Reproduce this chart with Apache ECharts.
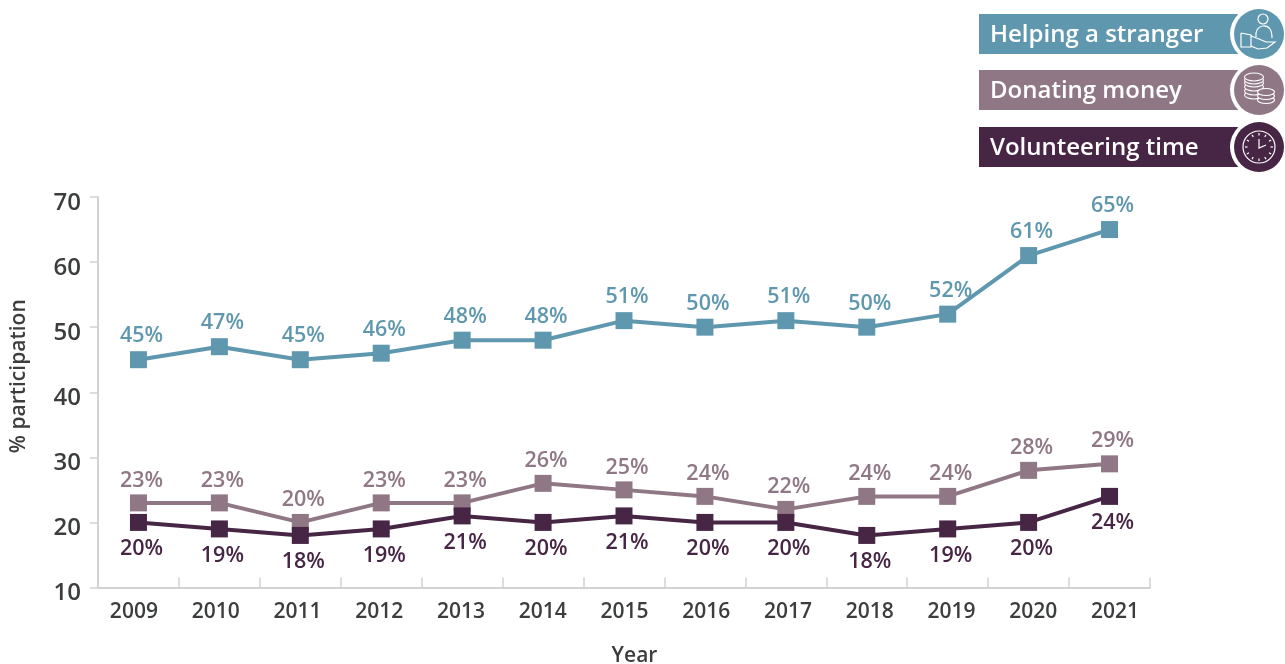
<!DOCTYPE html>
<html style="height: 100%">
<head>
  <meta charset="utf-8">
  <script src="https://cdn.jsdelivr.net/npm/echarts@6/dist/echarts.min.js"></script>
  <style>
    body { margin: 0; background: #fff; }
    #container { width: 1285px; height: 664px; }
  </style>
</head>
<body>
<div id="container"></div>
<script type="text/javascript">
var years = ['2009','2010','2011','2012','2013','2014','2015','2016','2017','2018','2019','2020','2021'];
var helping = [45,47,45,46,48,48,51,50,51,50,52,61,65];
var donating = [23,23,20,23,23,26,25,24,22,24,24,28,29];
var volunteering = [20,19,18,19,21,20,21,20,20,18,19,20,24];

var FONT = '"Open Sans", sans-serif';
var TEAL = '#5f98ae';
var MAUVE = '#8f7785';
var PLUM = '#472545';
var INK = '#3b3d3f';
var AXIS = '#d2d2d2';

function makeSeries(name, values, color, pos, dist) {
    return {
        name: name,
        type: 'line',
        data: values,
        symbol: 'rect',
        symbolSize: 17,
        itemStyle: { color: color },
        lineStyle: { color: color, width: 4 },
        label: {
            show: true,
            position: pos,
            distance: dist,
            offset: [3, 0],
            formatter: '{c}%',
            color: color,
            fontFamily: FONT,
            fontWeight: 600,
            fontSize: 21.5
        },
        z: 3
    };
}

// legend chips are drawn by hand, the original has a bar + round icon
function chip(y, text, color, icon) {
    var cy = y + 21;
    var kids = [
        { type: 'rect', shape: { x: 979, y: y, width: 262, height: 40 }, style: { fill: color } },
        { type: 'text', style: { x: 990, y: y + 21, text: text, fill: '#fff', font: '600 24px "Open Sans", sans-serif', verticalAlign: 'middle' } },
        { type: 'circle', shape: { cx: 1258, cy: cy - 1, r: 28 }, style: { fill: '#fff' } },
        { type: 'circle', shape: { cx: 1259, cy: cy - 1, r: 25 }, style: { fill: color } }
    ];
    return { type: 'group', children: kids.concat(icon(1259, cy - 1)) };
}

var thin = { stroke: '#fff', fill: 'none', lineWidth: 1.2 };

function handIcon(cx, cy) {
    return [
        { type: 'circle', shape: { cx: cx + 4, cy: cy - 15, r: 5 }, style: thin },
        { type: 'polyline', shape: { smooth: 0.4, points: [[cx - 3, cy + 3], [cx - 2, cy - 4], [cx + 4, cy - 8], [cx + 11, cy - 5], [cx + 13, cy + 4]] }, style: thin },
        { type: 'polyline', shape: { points: [[cx - 18, cy - 1], [cx - 8, cy + 1], [cx - 8, cy + 13], [cx - 18, cy + 13], [cx - 18, cy - 1]] }, style: thin },
        { type: 'polyline', shape: { points: [[cx - 8, cy + 2], [cx, cy + 5], [cx + 7, cy + 8], [cx + 16, cy + 8], [cx + 8, cy + 14], [cx - 1, cy + 15], [cx - 8, cy + 12]] }, style: thin }
    ];
}

function coinIcon(cx, cy) {
    var out = [];
    [5, 1, -3, -7, -10, -13].forEach(function (d) {
        out.push({ type: 'ellipse', shape: { cx: cx - 5, cy: cy + d, rx: 9.5, ry: 4 }, style: { stroke: '#fff', fill: MAUVE, lineWidth: 1.1 } });
    });
    [10, 6, 2].forEach(function (d) {
        out.push({ type: 'ellipse', shape: { cx: cx + 7, cy: cy + d, rx: 8.5, ry: 3.5 }, style: { stroke: '#fff', fill: MAUVE, lineWidth: 1.1 } });
    });
    return out;
}

function clockIcon(cx, cy) {
    var out = [
        { type: 'circle', shape: { cx: cx, cy: cy, r: 16 }, style: thin },
        { type: 'polyline', shape: { points: [[cx, cy - 8], [cx, cy + 1], [cx + 7, cy - 2]] }, style: thin }
    ];
    for (var i = 0; i < 12; i++) {
        var a = i * Math.PI / 6;
        out.push({ type: 'line', shape: { x1: cx + 14 * Math.sin(a), y1: cy - 14 * Math.cos(a), x2: cx + 11.5 * Math.sin(a), y2: cy - 11.5 * Math.cos(a) }, style: thin });
    }
    return out;
}

var myChart = echarts.init(document.getElementById('container'));
myChart.setOption({
    animation: false,
    textStyle: { fontFamily: FONT },
    grid: [
        { left: 98, right: 135, top: 197, bottom: 76.5, outerBoundsMode: 'none' },
        // second grid only carries the tick labels: in the original they sit lower
        // than the ticks and the years are spaced a bit wider than the points
        { left: 93, right: 129, top: 203, bottom: 70.5, outerBoundsMode: 'none' }
    ],
    xAxis: [
        {
            type: 'category',
            data: years,
            axisLine: { lineStyle: { color: AXIS, width: 2 } },
            axisTick: { show: true, interval: 0, inside: true, length: 10, lineStyle: { color: AXIS, width: 1.5 } },
            axisLabel: { show: false }
        },
        {
            type: 'category',
            gridIndex: 1,
            data: years,
            name: 'Year',
            nameLocation: 'middle',
            nameGap: 52,
            nameTextStyle: { color: INK, fontSize: 21, fontWeight: 600, fontFamily: FONT, padding: [0, 0, 0, 20] },
            axisLine: { show: false },
            axisTick: { show: false },
            axisLabel: { color: INK, fontSize: 21, fontWeight: 600, fontFamily: FONT, margin: 8, interval: 0 }
        }
    ],
    yAxis: [
        {
            type: 'value',
            min: 10,
            max: 70,
            interval: 10,
            name: '% participation',
            nameLocation: 'middle',
            nameGap: 68,
            nameTextStyle: { color: INK, fontSize: 21, fontWeight: 600, fontFamily: FONT, padding: [0, 0, 0, 32] },
            axisLine: { show: true, lineStyle: { color: AXIS, width: 2 } },
            axisTick: { show: true, length: 8, lineStyle: { color: AXIS, width: 1.5 } },
            splitLine: { show: false },
            axisLabel: { show: false }
        },
        {
            type: 'value',
            gridIndex: 1,
            min: 10,
            max: 70,
            interval: 10,
            axisLine: { show: false },
            axisTick: { show: false },
            splitLine: { show: false },
            axisLabel: { color: INK, fontSize: 24, fontWeight: 600, fontFamily: FONT, margin: 12 }
        }
    ],
    series: [
        makeSeries('Helping a stranger', helping, TEAL, 'top', 4),
        makeSeries('Donating money', donating, MAUVE, 'top', 3),
        makeSeries('Volunteering time', volunteering, PLUM, 'bottom', 7)
    ],
    graphic: [
        chip(14, 'Helping a stranger', TEAL, handIcon),
        chip(70, 'Donating money', MAUVE, coinIcon),
        chip(127, 'Volunteering time', PLUM, clockIcon)
    ]
});
</script>
</body>
</html>
